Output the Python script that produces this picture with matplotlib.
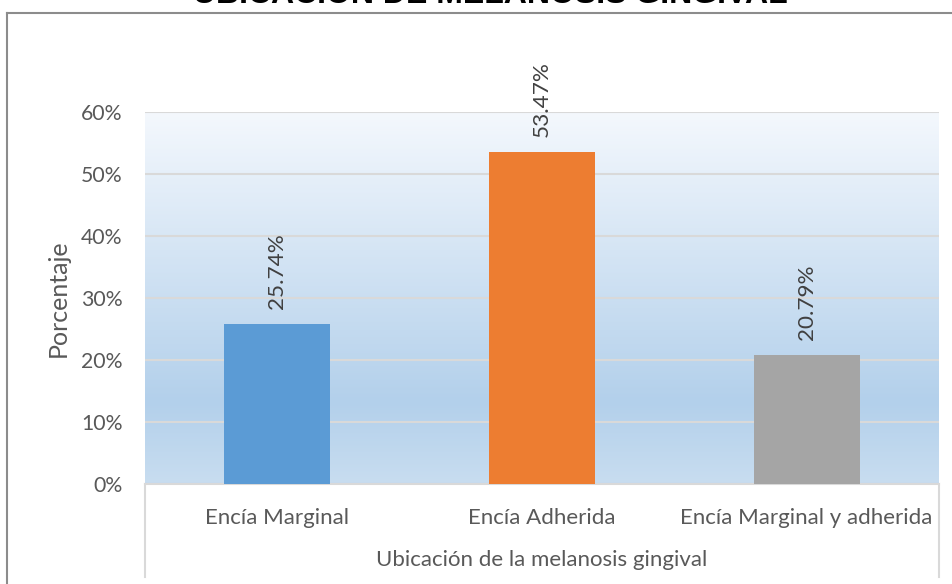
import matplotlib
matplotlib.use('Agg')
import matplotlib.pyplot as plt
from matplotlib.colors import LinearSegmentedColormap
from matplotlib.lines import Line2D
from matplotlib.ticker import PercentFormatter
import numpy as np

categorias = ['Encía Marginal', 'Encía Adherida', 'Encía Marginal y adherida']
porcentajes = [25.74, 53.47, 20.79]
colores = ['#5b9bd5', '#ed7d31', '#a5a5a5']
titulo = 'UBICACIÓN DE MELANOSIS GINGIVAL'

W, H = 952, 584
plt.rcParams['font.family'] = ['Lato', 'DejaVu Sans']
txt = '#595959'

fig = plt.figure(figsize=(W / 100, H / 100), dpi=100)
fig.patch.set_facecolor('white')

# plot area in pixels: x 145..939, y 112..484
ax = fig.add_axes([145 / W, (H - 484) / H, (939 - 145) / W, (484 - 112) / H])

# fondo degradado del area de trazado
cmap = LinearSegmentedColormap.from_list(
    'fondo', [(0.0, '#c8ddf0'), (0.22, '#b3d0eb'), (1.0, '#f4f8fd')])
grad = np.linspace(0, 1, 256).reshape(-1, 1)
ax.imshow(grad, cmap=cmap, origin='lower', aspect='auto',
          extent=[-0.5, 2.5, 0, 60], zorder=0)

x = np.arange(len(categorias))
ax.bar(x, porcentajes, width=0.4, color=colores, zorder=3)

for xi, v in zip(x, porcentajes):
    ax.annotate('%.2f%%' % v, (xi, v), xytext=(0, 11), textcoords='offset points',
                rotation=90, ha='center', va='bottom', fontsize=16.2, color='#404040')

ax.set_xlim(-0.5, 2.5)
ax.set_ylim(0, 60)
ax.set_yticks(range(0, 61, 10))
ax.yaxis.set_major_formatter(PercentFormatter(decimals=0))
ax.grid(axis='y', color='#d9d9d9', linewidth=1.5, zorder=1)
ax.set_axisbelow(False)
for s in ['left', 'right', 'top']:
    ax.spines[s].set_visible(False)
ax.spines['bottom'].set_color('#d9d9d9')
ax.spines['bottom'].set_linewidth(1.5)

ax.set_xticks(x)
ax.set_xticklabels(categorias)
ax.tick_params(axis='x', length=0, pad=17, labelsize=16, labelcolor=txt)
ax.tick_params(axis='y', length=0, pad=16, labelsize=15.3, labelcolor=txt)

ax.set_ylabel('Porcentaje', fontsize=18, color=txt, labelpad=8)
fig.text(542 / W, 1 - 560 / H, 'Ubicación de la melanosis gingival',
         ha='center', va='center', fontsize=16, color=txt)

# caja del eje de categorias
for px in (145, 939):
    fig.add_artist(Line2D([px / W, px / W], [1 - 484 / H, 1 - 577 / H],
                          color='#d9d9d9', linewidth=1.5))

# marco exterior del grafico
fig.add_artist(Line2D([7 / W, 7 / W], [0, 1 - 13 / H], color='#8c8c8c', linewidth=1.5))
fig.add_artist(Line2D([7 / W, 1], [1 - 13 / H, 1 - 13 / H], color='#8c8c8c', linewidth=1.5))

# titulo, recortado por el borde superior
fig.text(490 / W, 1 - 3 / H, titulo, ha='center', va='baseline',
         fontsize=23, fontweight='bold', color='black', family='Liberation Sans')

fig.savefig('out.png', dpi=100)
